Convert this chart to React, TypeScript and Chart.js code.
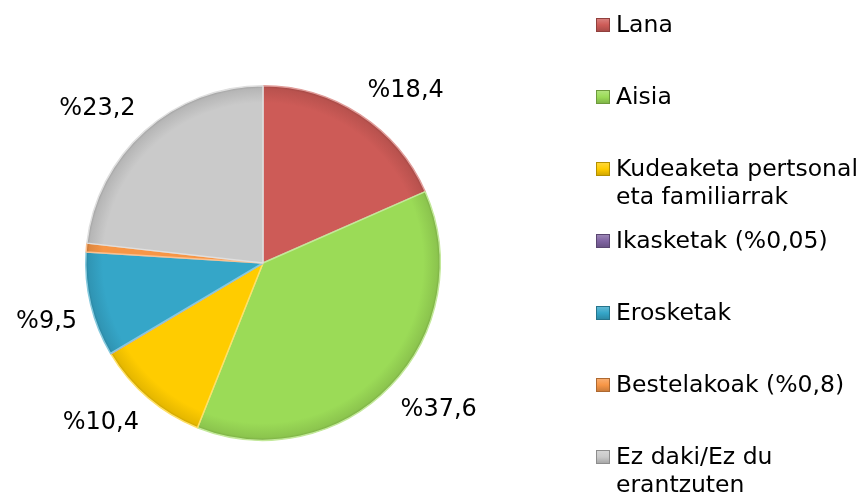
import React, { useEffect, useRef } from "react";
import { Chart, registerables } from "chart.js";

Chart.register(...registerables);

const categories = [
  "Lana",
  "Aisia",
  "Kudeaketa pertsonal eta familiarrak",
  "Ikasketak (%0,05)",
  "Erosketak",
  "Bestelakoak (%0,8)",
  "Ez daki/Ez du erantzuten",
];
const values = [18.4, 37.6, 10.4, 0.05, 9.5, 0.8, 23.2];
const valueLabels = ["%18,4", "%37,6", "%10,4", "", "%9,5", "", "%23,2"];
const colors = ["#CD5B57", "#9BDB57", "#FFCC00", "#8064A2", "#35A6C8", "#F79646", "#CACACA"];

const FONT = "DejaVu Sans, Verdana, sans-serif";

function shade(hex: string, f: number): string {
  const n = parseInt(hex.slice(1), 16);
  let r = (n >> 16) & 255, g = (n >> 8) & 255, b = n & 255;
  if (f < 0) {
    r = Math.round(r * (1 + f)); g = Math.round(g * (1 + f)); b = Math.round(b * (1 + f));
  } else {
    r = Math.round(r + (255 - r) * f); g = Math.round(g + (255 - g) * f); b = Math.round(b + (255 - b) * f);
  }
  return `rgb(${r},${g},${b})`;
}

const labelPlugin = {
  id: "valueLabels",
  afterDatasetsDraw(chart: any) {
    const ctx = chart.ctx;
    const meta = chart.getDatasetMeta(0);
    ctx.save();
    ctx.font = `24px ${FONT}`;
    ctx.fillStyle = "#000";
    meta.data.forEach((arc: any, i: number) => {
      const txt = valueLabels[i];
      if (!txt) return;
      const p = arc.getProps(["x", "y", "startAngle", "endAngle", "outerRadius"], true);
      const mid = (p.startAngle + p.endAngle) / 2;
      const d = p.outerRadius + 14;
      const c = Math.cos(mid), s = Math.sin(mid);
      const px = p.x + c * d, py = p.y + s * d;
      ctx.textAlign = c >= 0 ? "left" : "right";
      ctx.textBaseline = s >= 0 ? "top" : "bottom";
      ctx.fillText(txt, px, py + (s >= 0 ? 2 : 0));
    });
    ctx.restore();
  },
};

const legendPlugin = {
  id: "sideLegend",
  afterDraw(chart: any) {
    const ctx = chart.ctx;
    const x0 = 596, textX = 616, maxW = 250, firstY = 25, step = 72, lineH = 28, box = 14;
    ctx.save();
    ctx.font = `23.5px ${FONT}`;
    ctx.textBaseline = "middle";
    ctx.textAlign = "left";
    categories.forEach((label, i) => {
      const y = firstY + step * i;
      const col = colors[i];
      const g = ctx.createLinearGradient(x0, y - box / 2, x0, y + box / 2);
      g.addColorStop(0, shade(col, 0.25));
      g.addColorStop(0.5, col);
      g.addColorStop(1, shade(col, -0.2));
      ctx.fillStyle = g;
      ctx.fillRect(x0, y - box / 2, box, box);
      ctx.strokeStyle = shade(col, -0.3);
      ctx.lineWidth = 1;
      ctx.strokeRect(x0 + 0.5, y - box / 2 + 0.5, box - 1, box - 1);
      const words = label.split(" ");
      const lines: string[] = [];
      let cur = "";
      words.forEach((w) => {
        const t = cur ? cur + " " + w : w;
        if (ctx.measureText(t).width > maxW && cur) {
          lines.push(cur);
          cur = w;
        } else cur = t;
      });
      if (cur) lines.push(cur);
      ctx.fillStyle = "#000";
      lines.forEach((ln, j) => ctx.fillText(ln, textX, y + 1 + j * lineH));
    });
    ctx.restore();
  },
};

export default function App() {
  const ref = useRef<HTMLCanvasElement | null>(null);
  useEffect(() => {
    document.body.style.margin = "0";
    const canvas = ref.current!;
    const chart = new Chart(canvas, {
      type: "pie",
      data: {
        labels: categories,
        datasets: [
          {
            data: values,
            backgroundColor: (c: any) => {
              const base = colors[c.dataIndex];
              const area = c.chart.chartArea;
              if (!area) return base;
              const cx = (area.left + area.right) / 2;
              const cy = (area.top + area.bottom) / 2;
              const r = Math.min(area.right - area.left, area.bottom - area.top) / 2;
              const g = c.chart.ctx.createRadialGradient(cx, cy, 0, cx, cy, r);
              g.addColorStop(0, base);
              g.addColorStop(0.9, base);
              g.addColorStop(0.98, shade(base, -0.1));
              g.addColorStop(1, shade(base, -0.25));
              return g;
            },
            borderColor: colors.map((c) => shade(c, 0.4)),
            borderWidth: 1.5,
          },
        ],
      },
      options: {
        responsive: false,
        animation: false,
        layout: { padding: { left: 83, right: 419, top: 85, bottom: 55 } },
        plugins: {
          legend: { display: false },
          tooltip: { enabled: false },
          title: { display: false },
        },
      },
      plugins: [labelPlugin, legendPlugin],
    });
    return () => chart.destroy();
  }, []);
  return (
    <div style={{ width: 862, height: 496, background: "#fff" }}>
      <canvas ref={ref} width={862} height={496} style={{ display: "block" }} />
    </div>
  );
}
